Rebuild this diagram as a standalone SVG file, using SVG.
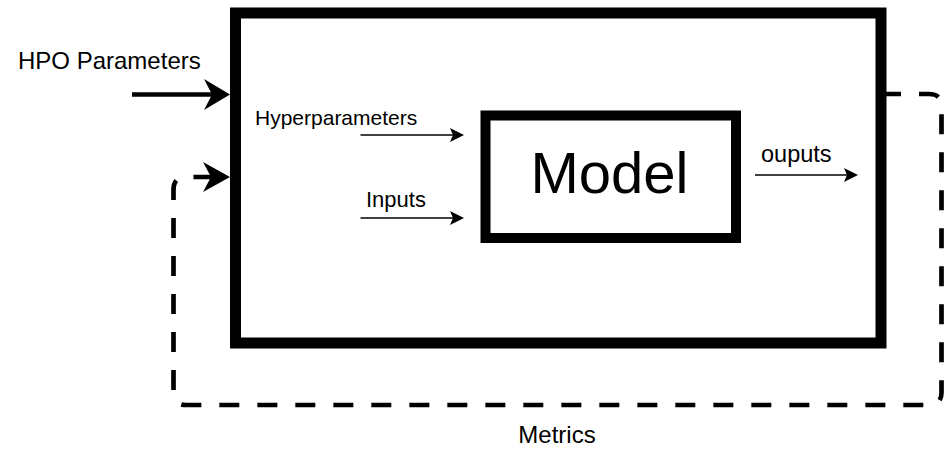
<svg xmlns="http://www.w3.org/2000/svg" width="944" height="449" viewBox="0 0 944 449">
<style>
text{font-family:"Liberation Sans",Arial,Helvetica,sans-serif;fill:#000}
.box{fill:#fff;stroke:#000;stroke-width:11}
.inner{fill:#fff;stroke:#000;stroke-width:10}
.thick{fill:none;stroke:#000;stroke-width:4.5}
.dash{fill:none;stroke:#000;stroke-width:4.7;stroke-dasharray:20 18}
.thin{fill:none;stroke:#000;stroke-width:1.6}
.head{fill:#000;stroke:none}
</style>
<rect width="944" height="449" fill="#fff"/>
<g id="hpo-box">
<rect class="box" x="235.5" y="13" width="645.5" height="330"/>
</g>
<g id="model">
<rect class="inner" x="485.5" y="115.5" width="250.5" height="122.5"/>
<text x="609.5" y="193" font-size="58" text-anchor="middle">Model</text>
</g>
<g id="labels">
<text x="18" y="69" font-size="24">HPO Parameters</text>
<text x="255" y="125" font-size="21">Hyperparameters</text>
<text x="366" y="207" font-size="22">Inputs</text>
<text x="761" y="162" font-size="23.5">ouputs</text>
<text x="557" y="443" font-size="24" text-anchor="middle">Metrics</text>
</g>
<g id="connectors">
<path class="thick" d="M132 94.5 L212 94.5"/>
<polygon class="head" points="230,94.5 204,79 212,94.5 204,110"/>
<path class="dash" d="M881 94 L929 94 Q941.5 94 941.5 106.5 L941.5 392.5 Q941.5 405 929 405 L186 405 Q173.5 405 173.5 392.5 L173.5 190 Q173.5 177 186 177 L212 177"/>
<polygon class="head" points="230,177 203,162 211,177 203,192"/>
<path class="thin" d="M360.5 135 L455 135"/>
<polygon class="head" points="464,135 450,128 453,135 450,142"/>
<path class="thin" d="M360.5 218 L455 218"/>
<polygon class="head" points="464,218 450,211 453,218 450,225"/>
<path class="thin" d="M755 175 L849 175"/>
<polygon class="head" points="858,175 844,168 847,175 844,182"/>
</g>
</svg>
